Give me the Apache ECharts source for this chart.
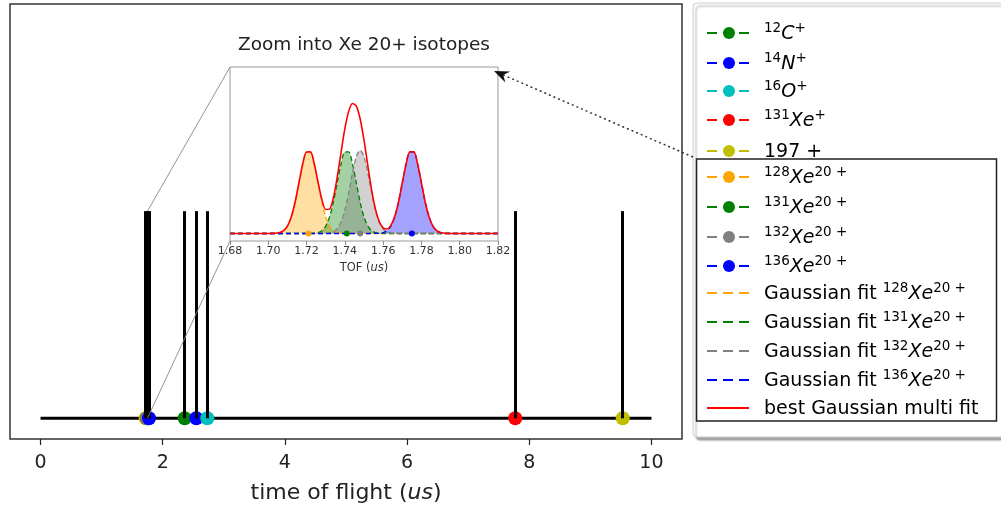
<!DOCTYPE html>
<html>
<head>
<meta charset="utf-8">
<title>Xe 20+ time of flight</title>
<script src="https://cdn.jsdelivr.net/npm/echarts@6/dist/echarts.min.js"></script>
<style>
  html, body { margin: 0; padding: 0; background: #fff; }
  #tofChart { width: 1001px; height: 511px; }
</style>
</head>
<body>
<div id="tofChart"></div>
<script>
// main spectrum
const baselineX = [0, 10];
const ionNames = ['12C+', '14N+', '16O+', '131Xe+', '197+'];
const ionTof = [2.36, 2.55, 2.73, 7.77, 9.53];
const ionPeak = [1, 1, 1, 1, 1];
const ionColors = ['#008000', '#0000ff', '#00bfbf', '#ff0000', '#bfbf00'];

const xeNames = ['128Xe20+', '131Xe20+', '132Xe20+', '136Xe20+'];
const xeTof = [1.721, 1.741, 1.748, 1.775];
const xePeak = [1, 1, 1, 1];
const xeColors = ['#ffa500', '#008000', '#808080', '#0000ff'];

const mainTicks = [0, 2, 4, 6, 8, 10];

// zoom inset: TOF samples (us) and the fitted curves
const tofGrid = [1.680,
  1.700, 1.702, 1.704, 1.706, 1.708, 1.710, 1.712, 1.714, 1.716, 1.718, 1.720,
  1.722, 1.724, 1.726, 1.728, 1.730, 1.732, 1.734, 1.736, 1.738, 1.740,
  1.742, 1.744, 1.746, 1.748, 1.750, 1.752, 1.754, 1.756, 1.758, 1.760,
  1.762, 1.764, 1.766, 1.768, 1.770, 1.772, 1.774, 1.776, 1.778, 1.780,
  1.782, 1.784, 1.786, 1.788, 1.790, 1.792, 1.794, 1.796,
  1.820];
const fit128 = [0,
  0, 0.001, 0.003, 0.011, 0.034, 0.089, 0.198, 0.375, 0.607, 0.835, 0.980,
  0.980, 0.835, 0.607, 0.375, 0.198, 0.089, 0.034, 0.011, 0.003, 0.001,
  0, 0, 0, 0, 0, 0, 0, 0, 0, 0,
  0, 0, 0, 0, 0, 0, 0, 0, 0, 0,
  0, 0, 0, 0, 0, 0, 0, 0,
  0];
const fit131 = [0,
  0, 0, 0, 0, 0, 0, 0, 0, 0, 0, 0,
  0.001, 0.003, 0.011, 0.034, 0.089, 0.198, 0.375, 0.607, 0.835, 0.980,
  0.980, 0.835, 0.607, 0.375, 0.198, 0.089, 0.034, 0.011, 0.003, 0.001,
  0, 0, 0, 0, 0, 0, 0, 0, 0, 0,
  0, 0, 0, 0, 0, 0, 0, 0,
  0];
const fit132 = [0,
  0, 0, 0, 0, 0, 0, 0, 0, 0, 0, 0,
  0, 0, 0, 0, 0.002, 0.006, 0.020, 0.056, 0.135, 0.278,
  0.487, 0.726, 0.923, 1.000, 0.923, 0.726, 0.487, 0.278, 0.135, 0.056,
  0.020, 0.006, 0.002, 0, 0, 0, 0, 0, 0, 0,
  0, 0, 0, 0, 0, 0, 0, 0,
  0];
const fit136 = [0,
  0, 0, 0, 0, 0, 0, 0, 0, 0, 0, 0,
  0, 0, 0, 0, 0, 0, 0, 0, 0, 0,
  0, 0, 0, 0, 0, 0, 0, 0.001, 0.003, 0.011,
  0.034, 0.089, 0.198, 0.375, 0.607, 0.835, 0.980, 0.980, 0.835, 0.607,
  0.375, 0.198, 0.089, 0.034, 0.011, 0.003, 0.001, 0,
  0];
const multiFit = [0,
  0, 0.001, 0.003, 0.011, 0.034, 0.089, 0.198, 0.375, 0.607, 0.835, 0.980,
  0.981, 0.838, 0.618, 0.409, 0.289, 0.293, 0.429, 0.674, 0.973, 1.259,
  1.467, 1.561, 1.530, 1.375, 1.121, 0.815, 0.521, 0.290, 0.141, 0.068,
  0.054, 0.095, 0.200, 0.375, 0.607, 0.835, 0.980, 0.980, 0.835, 0.607,
  0.375, 0.198, 0.089, 0.034, 0.011, 0.003, 0.001, 0,
  0];
const insetTicks = [1.68, 1.70, 1.72, 1.74, 1.76, 1.78, 1.80, 1.82];

// legend labels (mathtext-like rich text)
const legendText = [
  '{s|12}{i|C}{s|+}', '{s|14}{i|N}{s|+}', '{s|16}{i|O}{s|+}', '{s|131}{i|Xe}{s|+}', '{n|197 +}',
  '{s|128}{i|Xe}{s|20 +}', '{s|131}{i|Xe}{s|20 +}', '{s|132}{i|Xe}{s|20 +}', '{s|136}{i|Xe}{s|20 +}',
  '{n|Gaussian fit }{s|128}{i|Xe}{s|20 +}', '{n|Gaussian fit }{s|131}{i|Xe}{s|20 +}',
  '{n|Gaussian fit }{s|132}{i|Xe}{s|20 +}', '{n|Gaussian fit }{s|136}{i|Xe}{s|20 +}',
  '{n|best Gaussian multi fit}'
];
const legendColors = ionColors.concat(xeColors, xeColors, ['#ff0000']);
const legendKind = ['dot', 'dot', 'dot', 'dot', 'dot', 'dot', 'dot', 'dot', 'dot',
  'dash', 'dash', 'dash', 'dash', 'solid'];

const font = 'DejaVu Sans';
const textColor = '#222';
const richText = {
  n: { fontSize: 19, lineHeight: 25, color: textColor, fontFamily: font },
  i: { fontSize: 19, lineHeight: 25, color: textColor, fontFamily: font, fontStyle: 'italic' },
  s: { fontSize: 13.5, lineHeight: 15, color: textColor, fontFamily: font, verticalAlign: 'top' }
};

const chart = echarts.init(document.getElementById('tofChart'));

const spikes = [];
xeTof.forEach((x, i) => spikes.push([{ coord: [x, 0] }, { coord: [x, xePeak[i]] }]));
ionTof.forEach((x, i) => spikes.push([{ coord: [x, 0] }, { coord: [x, ionPeak[i]] }]));

const series = [{
  type: 'line',
  xAxisIndex: 0,
  yAxisIndex: 0,
  data: baselineX.map(x => [x, 0]),
  symbol: 'none',
  lineStyle: { color: '#000', width: 3 },
  markLine: {
    silent: true,
    symbol: ['none', 'none'],
    label: { show: false },
    lineStyle: { color: '#000', width: 3, type: 'solid' },
    data: spikes
  },
  z: 2
}];

// dots on the main axis
xeNames.forEach((name, i) => {
  series.push({
    name: name, type: 'scatter', xAxisIndex: 0, yAxisIndex: 0,
    data: [[xeTof[i], 0]], symbolSize: 14,
    itemStyle: { color: xeColors[i], opacity: 1 }, z: 4
  });
});
ionNames.forEach((name, i) => {
  series.push({
    name: name, type: 'scatter', xAxisIndex: 0, yAxisIndex: 0,
    data: [[ionTof[i], 0]], symbolSize: 14,
    itemStyle: { color: ionColors[i], opacity: 1 }, z: 4
  });
});

// gaussian fits in the inset
[fit128, fit131, fit132, fit136].forEach((ys, i) => {
  series.push({
    name: 'fit ' + xeNames[i], type: 'line', xAxisIndex: 1, yAxisIndex: 1,
    data: tofGrid.map((x, j) => [x, ys[j]]),
    smooth: 0.3, symbol: 'none',
    lineStyle: { color: xeColors[i], width: 1.3, type: [5, 3] },
    areaStyle: { color: xeColors[i], opacity: 0.36 },
    z: 5
  });
});
series.push({
  name: 'best Gaussian multi fit', type: 'line', xAxisIndex: 1, yAxisIndex: 1,
  data: tofGrid.map((x, j) => [x, multiFit[j]]),
  smooth: 0.3, symbol: 'none',
  lineStyle: { color: '#ff0000', width: 1.6 },
  z: 6
});
series.push({
  name: 'inset dots', type: 'scatter', xAxisIndex: 1, yAxisIndex: 1,
  data: xeTof.map((x, i) => ({ value: [x, 0], itemStyle: { color: xeColors[i] } })),
  symbolSize: 6, itemStyle: { opacity: 1 }, z: 7
});

const option = {
  animation: false,
  backgroundColor: '#fff',
  textStyle: { fontFamily: font },
  grid: [{
    left: 10, top: 4, width: 672, height: 435,
    show: true, borderColor: '#333', borderWidth: 1.5,
    outerBoundsMode: 'none'
  }, {
    left: 230, top: 67, width: 268, height: 174,
    show: true, borderColor: '#999', borderWidth: 1, backgroundColor: '#fff',
    outerBoundsMode: 'none'
  }],
  xAxis: [{
    gridIndex: 0, type: 'value', min: -0.5, max: 10.5,
    axisLine: { show: false, onZero: false },
    splitLine: { show: false },
    axisTick: { show: true, customValues: mainTicks, length: 6, lineStyle: { color: '#222', width: 1.2 } },
    axisLabel: { customValues: mainTicks, fontSize: 19, color: textColor, margin: 15 },
    name: '{n|time of flight (}{i|us}{n|)}',
    nameLocation: 'middle', nameGap: 43,
    nameTextStyle: {
      rich: {
        n: { fontSize: 22, color: textColor, fontFamily: font },
        i: { fontSize: 22, color: textColor, fontFamily: font, fontStyle: 'italic' }
      }
    }
  }, {
    gridIndex: 1, type: 'value', min: 1.68, max: 1.82,
    axisLine: { show: false, onZero: false },
    splitLine: { show: false },
    axisTick: { show: true, customValues: insetTicks, length: 4, lineStyle: { color: '#888' } },
    axisLabel: { customValues: insetTicks, fontSize: 11, color: '#333', margin: 5, formatter: v => v.toFixed(2) },
    name: '{n|TOF (}{i|us}{n|)}',
    nameLocation: 'middle', nameGap: 21,
    nameTextStyle: {
      rich: {
        n: { fontSize: 11.5, color: '#333', fontFamily: font },
        i: { fontSize: 11.5, color: '#333', fontFamily: font, fontStyle: 'italic' }
      }
    }
  }],
  yAxis: [
    { gridIndex: 0, type: 'value', min: -0.1, max: 2.0, show: false },
    { gridIndex: 1, type: 'value', min: -0.09, max: 2.0, show: false }
  ],
  series: series
};

chart.setOption(option);

// connector lines, arrow and legend drawn on top
const pTop = chart.convertToPixel({ gridIndex: 0 }, [1.75, 1]);
const pBot = chart.convertToPixel({ gridIndex: 0 }, [1.75, 0]);
const cTop = chart.convertToPixel({ gridIndex: 1 }, [1.68, 2.0]);
const cBot = chart.convertToPixel({ gridIndex: 1 }, [1.68, -0.09]);
const cRight = chart.convertToPixel({ gridIndex: 1 }, [1.82, 2.0]);

const tip = [cRight[0] - 4, cRight[1] + 4];
const tail = [693, 157];
const dx = tip[0] - tail[0], dy = tip[1] - tail[1];
const len = Math.sqrt(dx * dx + dy * dy);
const ux = dx / len, uy = dy / len;
const nx = -uy, ny = ux;
const arrowHead = [
  tip,
  [tip[0] - ux * 15 + nx * 6, tip[1] - uy * 15 + ny * 6],
  [tip[0] - ux * 10, tip[1] - uy * 10],
  [tip[0] - ux * 15 - nx * 6, tip[1] - uy * 15 - ny * 6]
];

const graphics = [
  { type: 'line', z: 50, shape: { x1: pTop[0], y1: pTop[1], x2: cTop[0], y2: cTop[1] }, style: { stroke: '#888', lineWidth: 0.9 } },
  { type: 'line', z: 50, shape: { x1: pBot[0], y1: pBot[1], x2: cBot[0], y2: cBot[1] }, style: { stroke: '#888', lineWidth: 0.9 } },
  {
    type: 'text', z: 50, x: (cTop[0] + cRight[0]) / 2, y: 45,
    style: { text: 'Zoom into Xe 20+ isotopes', fontSize: 18.5, fontFamily: font, fill: textColor, align: 'center', verticalAlign: 'middle' }
  },
  // legend frame
  {
    type: 'rect', z: 60, shape: { x: 693, y: 3, width: 340, height: 434, r: 4 },
    style: { fill: '#fff', stroke: '#ccc', lineWidth: 1, shadowColor: 'rgba(0,0,0,0.35)', shadowOffsetX: 3, shadowOffsetY: 3, shadowBlur: 2 }
  },
  {
    type: 'rect', z: 61, shape: { x: 696.5, y: 159, width: 300, height: 262 },
    style: { fill: 'none', stroke: '#222', lineWidth: 1.5 }
  },
  { type: 'line', z: 70, shape: { x1: tail[0], y1: tail[1], x2: tip[0] - ux * 10, y2: tip[1] - uy * 10 }, style: { stroke: '#333', lineWidth: 1.5, lineDash: [2, 3] } },
  { type: 'polygon', z: 70, shape: { points: arrowHead }, style: { fill: '#111' } }
];

const legendRows = [33, 63, 91, 120, 151, 177, 207, 237, 266, 293, 322, 351, 380, 408];
legendText.forEach((txt, i) => {
  const y = legendRows[i];
  const color = legendColors[i];
  graphics.push({
    type: 'line', z: 62,
    shape: { x1: 707, y1: y, x2: 749, y2: y },
    style: { stroke: color, lineWidth: 2, lineDash: legendKind[i] === 'solid' ? null : [10, 6] }
  });
  if (legendKind[i] === 'dot') {
    graphics.push({ type: 'circle', z: 63, shape: { cx: 729, cy: y, r: 6 }, style: { fill: color } });
  }
  graphics.push({
    type: 'text', z: 63, x: 764, y: y + 1,
    style: { text: txt, rich: richText, verticalAlign: 'middle', align: 'left' }
  });
});

chart.setOption({ graphic: graphics });

window.addEventListener('resize', function () {
  chart.resize();
});
</script>
</body>
</html>
